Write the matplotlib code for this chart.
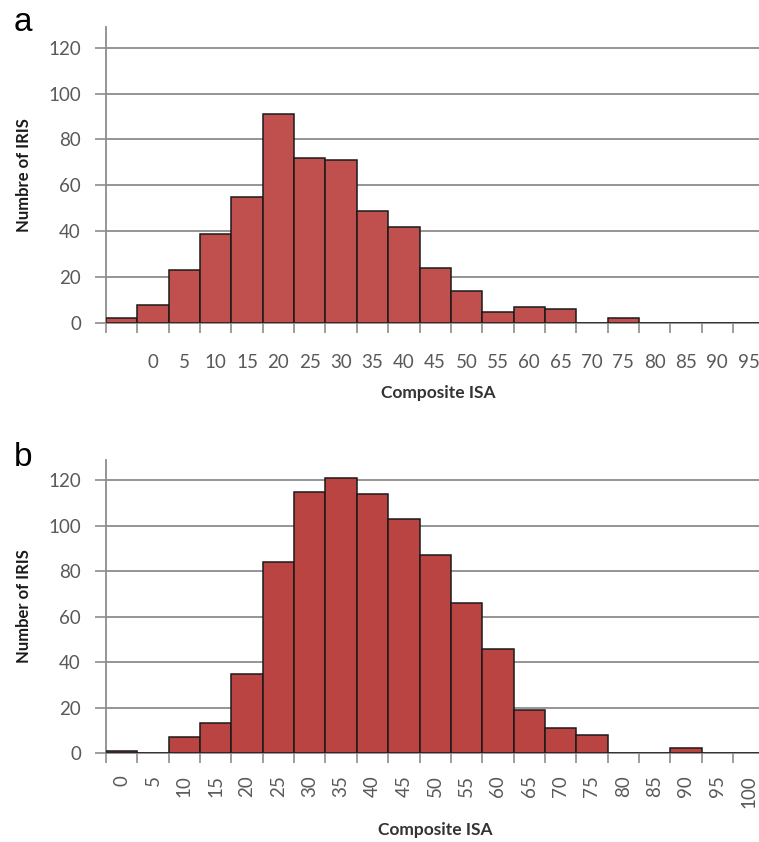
import numpy as np
from matplotlib import pyplot as plt

# Panel a: composite ISA histogram (first bin has no label)
labels_a = [""] + [str(v) for v in range(0, 100, 5)]
counts_a = [2, 8, 23, 39, 55, 91, 72, 71, 49, 42, 24, 14, 5, 7, 6, 0, 2, 0, 0, 0, 0]

# Panel b
labels_b = [str(v) for v in range(0, 105, 5)]
counts_b = [1, 0, 7, 13, 35, 84, 115, 121, 114, 103, 87, 66, 46, 19, 11, 8, 0, 0, 2, 0, 0]

yticks = [0, 20, 40, 60, 80, 100, 120]

GRID = "#8c8c8c"
TXT = "#595959"

fig = plt.figure(figsize=(7.59, 8.42), dpi=100)
bin_w = 31.35 / 759  # width of one category in figure fraction


def draw_panel(ax, labels, counts, color, rotate, pad, ylab):
    x = np.arange(len(labels))
    ax.bar(x, counts, width=1.0, color=color, edgecolor="#1a1a1a", linewidth=1.1, zorder=3)
    ax.set_xlim(-0.5, len(labels) - 0.5)
    ax.set_ylim(0, 129)
    ax.set_yticks(yticks)
    ax.set_yticklabels([str(v) for v in yticks], fontsize=13.5, color=TXT, family="Lato")
    ax.yaxis.grid(True, color=GRID, linewidth=1.3, zorder=0)
    # ticks at bin edges, labels at bin centres
    ax.set_xticks(np.arange(len(labels) + 1) - 0.5)
    ax.set_xticklabels([])
    ax.set_xticks(x, minor=True)
    ax.set_xticklabels(labels, minor=True, fontsize=13.5, color=TXT, family="Lato",
                       rotation=90 if rotate else 0)
    ax.tick_params(axis="x", which="major", length=7, width=1.2, color=GRID, direction="out")
    ax.tick_params(axis="x", which="minor", length=0, pad=pad)
    ax.tick_params(axis="y", length=8, width=1.2, color=GRID, pad=10)
    for s in ["top", "right"]:
        ax.spines[s].set_visible(False)
    for s in ["left", "bottom"]:
        ax.spines[s].set_color(GRID)
        ax.spines[s].set_linewidth(1.3)
    ax.set_ylabel(ylab, fontsize=12, fontweight="bold", family="Lato", color="#1a1a1a", labelpad=12)
    ax.set_xlabel("Composite ISA", fontsize=12.5, fontweight="bold", family="Lato", color="#333333")


ax1 = fig.add_axes([106 / 759, 1 - 323 / 842, 21 * bin_w, (323 - 27) / 842])
draw_panel(ax1, labels_a, counts_a, "#C0504D", False, 22, "Numbre of IRIS")
ax1.xaxis.set_label_coords(0.505, -0.21)

ax2 = fig.add_axes([106 / 759, 1 - 753 / 842, 21 * bin_w, (753 - 460) / 842])
draw_panel(ax2, labels_b, counts_b, "#B94441", True, 16, "Number of IRIS")
ax2.xaxis.set_label_coords(0.5, -0.235)

fig.text(14 / 759, 1 - 31 / 842, "a", fontsize=24, family="Liberation Sans")
fig.text(14 / 759, 1 - 466 / 842, "b", fontsize=24, family="Liberation Sans")

fig.savefig("out.png", dpi=100)
